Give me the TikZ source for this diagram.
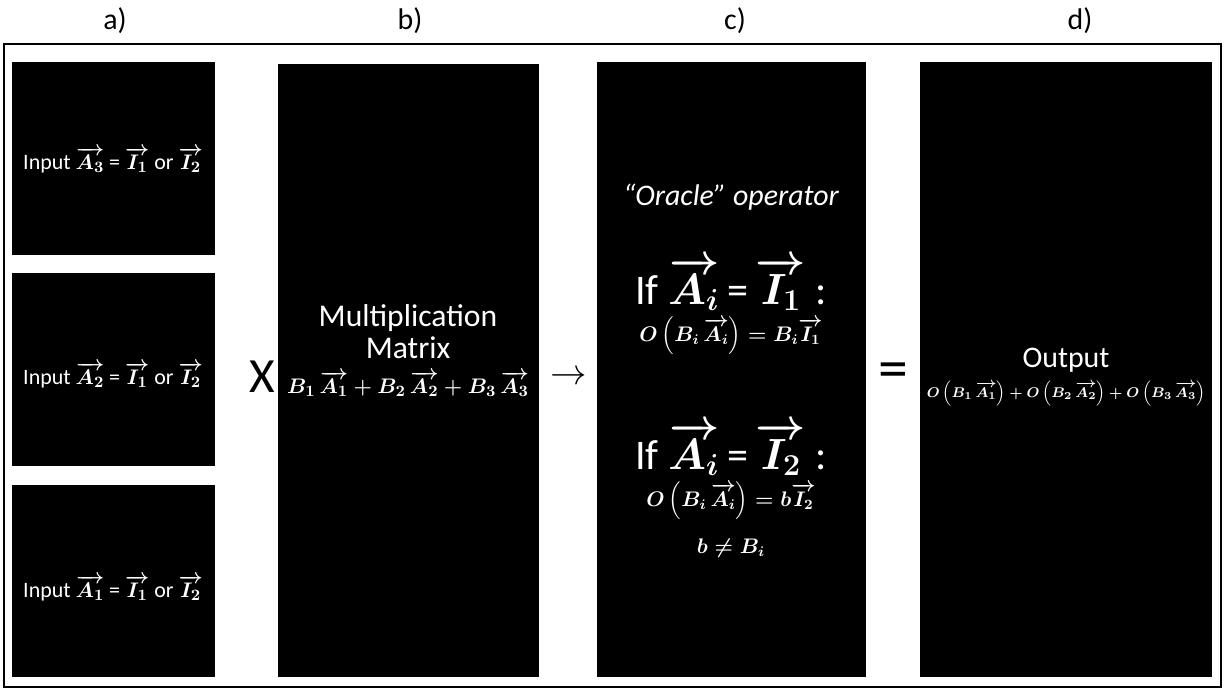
\documentclass[tikz,border=0pt]{standalone}
\usepackage{fontspec}
\setmainfont{Carlito}
\usepackage{amsmath}
\usepackage{bm}
\usetikzlibrary{positioning}

\newcommand{\va}[2]{\overrightarrow{\bm{#1}_{\bm{#2}}}}
\newcommand{\bb}[1]{\bm{#1}}

\tikzset{
  panel/.style={fill=black, draw=none},
  wtext/.style={text=white, align=center, inner sep=0pt},
  tag/.style={font=\fontsize{17}{19}\selectfont},
  sym/.style={font=\fontsize{28}{30}\selectfont},
}

\begin{document}
\begin{tikzpicture}[x=0.02cm, y=-0.02cm]
        \useasboundingbox (0,0) rectangle (1225,690);

        % Column labels
        \node[tag] (la) at (115,21) {a)};
        \node[tag] (lb) at (410,21) {b)};
        \node[tag] (lc) at (735,21) {c)};
        \node[tag] (ld) at (1080,21) {d)};

        % Outer frame
        \draw[line width=1.6pt] (4,44) rectangle (1221,687);

        % Corners of the black panels
        \coordinate (A3nw) at (12,62);   \coordinate (A3se) at (215,255);
        \coordinate (A2nw) at (12,273);  \coordinate (A2se) at (215,466);
        \coordinate (A1nw) at (12,485);  \coordinate (A1se) at (215,677);
        \coordinate (Mnw) at (278,64);   \coordinate (Mse) at (539,677);
        \coordinate (Onw) at (597,62);   \coordinate (Ose) at (866,677);
        \coordinate (Unw) at (920,62);   \coordinate (Use) at (1212,677);

        % Draw the panels
        \fill[panel] (A3nw) rectangle (A3se);
        \fill[panel] (A2nw) rectangle (A2se);
        \fill[panel] (A1nw) rectangle (A1se);
        \fill[panel] (Mnw) rectangle (Mse);
        \fill[panel] (Onw) rectangle (Ose);
        \fill[panel] (Unw) rectangle (Use);

        % a) inputs
        \node[wtext, font=\fontsize{12.5}{14}\selectfont\boldmath] (in3) at (113,160)
        {Input $\va{A}{3}$ = $\va{I}{1}$ or $\va{I}{2}$};
        \node[wtext, font=\fontsize{12.5}{14}\selectfont\boldmath] (in2) at (113,375)
        {Input $\va{A}{2}$ = $\va{I}{1}$ or $\va{I}{2}$};
        \node[wtext, font=\fontsize{12.5}{14}\selectfont\boldmath] (in1) at (113,588)
        {Input $\va{A}{1}$ = $\va{I}{1}$ or $\va{I}{2}$};

        % b) multiplication matrix
        \node[wtext, font=\fontsize{18}{20}\selectfont] (mul) at (408,318) {Multiplication};
        \node[wtext, font=\fontsize{18}{20}\selectfont] (mat) at (408,348) {Matrix};
        \node[wtext, font=\fontsize{13}{15}\selectfont\boldmath] (sum) at (408,384)
        {$\bb{B}_{\bb{1}}\,\va{A}{1}+\bb{B}_{\bb{2}}\,\va{A}{2}+\bb{B}_{\bb{3}}\,\va{A}{3}$};

        % c) oracle
        \node[wtext, font=\fontsize{17}{19}\selectfont\itshape] (orc) at (731,197) {“Oracle” operator};
        \node[wtext, font=\fontsize{24}{26}\selectfont\boldmath] (if1) at (731,284)
        {If~$\va{A}{i}\,$=\,$\va{I}{1}$~:};
        \node[wtext, font=\fontsize{12}{14}\selectfont\boldmath] (ou1) at (731,336)
        {$\bb{O}\left(\bb{B}_{\bb{i}}\,\va{A}{i}\right)=\bb{B}_{\bb{i}}\va{I}{1}$};
        \node[wtext, font=\fontsize{24}{26}\selectfont\boldmath] (if2) at (731,449)
        {If~$\va{A}{i}\,$=\,$\va{I}{2}$~:};
        \node[wtext, font=\fontsize{12}{14}\selectfont\boldmath] (ou2) at (731,501)
        {$\bb{O}\left(\bb{B}_{\bb{i}}\,\va{A}{i}\right)=\bb{b}\va{I}{2}$};
        \node[wtext, font=\fontsize{12}{14}\selectfont\boldmath] (neq) at (731,548)
        {$\bb{b}\neq\bb{B}_{\bb{i}}$};

        % d) output
        \node[wtext, font=\fontsize{17}{19}\selectfont] (out) at (1066,360) {Output};
        \node[wtext, font=\fontsize{8.5}{10}\selectfont\boldmath] (tot) at (1066,394)
        {$\bb{O}\left(\bb{B}_{\bb{1}}\,\va{A}{1}\right)+\bb{O}\left(\bb{B}_{\bb{2}}\,\va{A}{2}\right)+\bb{O}\left(\bb{B}_{\bb{3}}\,\va{A}{3}\right)$};

        % Operators between the panels
        \node[sym] (times) at (262,377) {X};
        \node[font=\fontsize{22}{24}\selectfont] (to) at (569,378) {$\rightarrow$};
        \node[font=\fontsize{34}{36}\selectfont] (eq) at (893,376) {=};

\end{tikzpicture}
\end{document}
